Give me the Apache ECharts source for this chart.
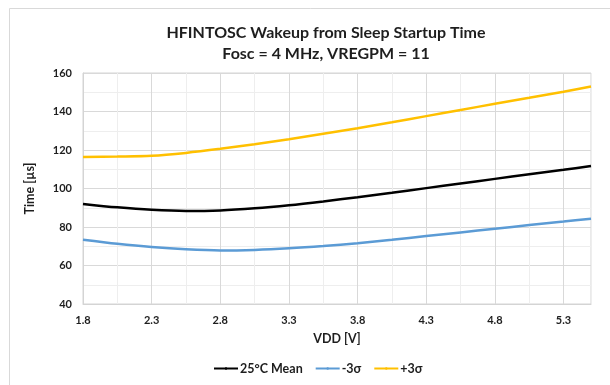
<!DOCTYPE html>
<html>
<head>
<meta charset="utf-8">
<script src="https://cdn.jsdelivr.net/npm/echarts@6/dist/echarts.min.js"></script>
<style>
  html, body { margin: 0; padding: 0; background: #fff; }
  #chart { width: 610px; height: 385px; }
</style>
</head>
<body>
<div id="chart"></div>
<script>
// VDD sample points [V]
const vdd = [1.8, 2.05, 2.3, 2.55, 2.8, 3.05, 3.3, 3.55, 3.8, 4.05, 4.3, 4.55, 4.8, 5.05, 5.3, 5.5];
// startup time [us]
const mean25 = [92.0, 90.2, 88.9, 88.3, 88.6, 89.7, 91.3, 93.3, 95.5, 97.8, 100.2, 102.6, 105.0, 107.4, 109.7, 111.7];
const minus3s = [73.4, 71.3, 69.6, 68.4, 67.8, 68.1, 68.9, 70.1, 71.6, 73.4, 75.3, 77.2, 79.1, 81.0, 82.8, 84.3];
const plus3s = [116.4, 116.6, 117.0, 118.5, 120.6, 123.0, 125.6, 128.4, 131.3, 134.4, 137.6, 140.8, 144.0, 147.1, 150.3, 153.0];
const xTickLabels = ['1.8', '2.3', '2.8', '3.3', '3.8', '4.3', '4.8', '5.3'];
const yTickLabels = [40, 60, 80, 100, 120, 140, 160];
const seriesNames = ['25°C Mean', '-3σ', '+3σ'];

// x axis runs on offset from 1.8 V so that ticks start at the axis min
const X0 = 1.8;
const toPairs = (ys) => vdd.map((v, i) => [+(v - X0).toFixed(3), ys[i]]);

const FONT = 'Lato';
const TXT = '#1e1e1e';
const chart = echarts.init(document.getElementById('chart'), null, { renderer: 'canvas' });

const lineSeries = (name, ys, color) => ({
  name,
  type: 'line',
  data: toPairs(ys),
  smooth: 0.3,
  symbol: 'none',
  lineStyle: { color, width: 2.5 },
  itemStyle: { color }
});

chart.setOption({
  backgroundColor: '#fff',
  animation: false,
  graphic: [{
    type: 'rect',
    left: 7, top: 6,
    shape: { width: 640, height: 420 },
    style: { fill: 'none', stroke: '#d9d9d9', lineWidth: 1 },
    silent: true
  }],
  title: {
    text: 'HFINTOSC Wakeup from Sleep Startup Time\nFosc = 4 MHz, VREGPM = 11',
    left: 321, top: 17, textAlign: 'center',
    textStyle: { fontFamily: FONT, fontSize: 16, fontWeight: 'bold', color: TXT, lineHeight: 21 }
  },
  legend: {
    left: 208, top: 357,
    itemWidth: 24, itemHeight: 3, itemGap: 12,
    data: seriesNames,
    textStyle: { fontFamily: FONT, fontSize: 12.5, fontWeight: 'bold', color: TXT, padding: [0, 0, 0, -3] }
  },
  grid: {
    left: 83, right: 19, top: 73, bottom: 81,
    show: true, borderColor: '#d4d4d4', borderWidth: 1
  },
  xAxis: {
    type: 'value',
    min: 0, max: +(5.5 - X0).toFixed(2), interval: 0.25,
    name: 'VDD [V]', nameLocation: 'middle', nameGap: 28,
    nameTextStyle: { fontFamily: FONT, fontSize: 12.5, fontWeight: 'bold', color: TXT },
    axisLine: { show: true, lineStyle: { color: '#d4d4d4' } },
    axisTick: { show: false },
    axisLabel: {
      margin: 11, showMaxLabel: false,
      fontFamily: FONT, fontSize: 11, fontWeight: 'bold', color: TXT,
      formatter: (v) => {
        const s = (v + X0).toFixed(1);
        return xTickLabels.includes(s) && Math.abs(v * 2 - Math.round(v * 2)) < 1e-6 ? s : '';
      }
    },
    splitLine: { show: true, lineStyle: { color: ['#d9d9d9', '#eeeeee'], width: 1 } }
  },
  yAxis: {
    type: 'value',
    min: 40, max: 160, interval: 10,
    name: 'Time [µs]', nameLocation: 'middle', nameGap: 47, nameRotate: 90,
    nameTextStyle: { fontFamily: FONT, fontSize: 12.5, fontWeight: 'bold', color: TXT },
    axisLine: { show: true, lineStyle: { color: '#d4d4d4' } },
    axisTick: { show: false },
    axisLabel: {
      margin: 11,
      fontFamily: FONT, fontSize: 11, fontWeight: 'bold', color: TXT,
      formatter: (v) => (yTickLabels.includes(v) ? String(v) : '')
    },
    splitLine: { show: true, lineStyle: { color: ['#d9d9d9', '#eeeeee'], width: 1 } }
  },
  series: [
    lineSeries(seriesNames[0], mean25, '#000000'),
    lineSeries(seriesNames[1], minus3s, '#5b9bd5'),
    lineSeries(seriesNames[2], plus3s, '#ffc000')
  ]
});
</script>
</body>
</html>
